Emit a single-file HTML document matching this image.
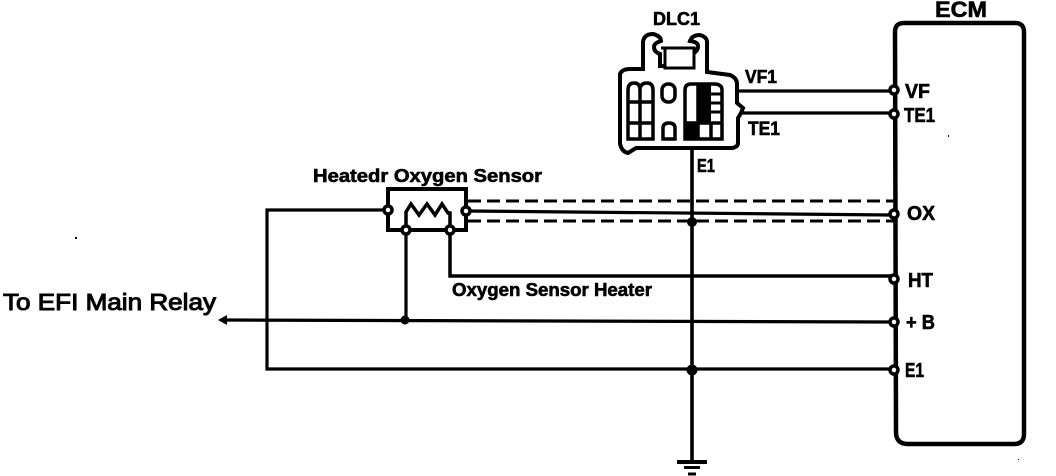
<!DOCTYPE html>
<html>
<head>
<meta charset="utf-8">
<style>
html,body{margin:0;padding:0;background:#fff;width:1056px;height:476px;overflow:hidden}
svg{display:block}
text{font-family:"Liberation Sans",sans-serif;font-weight:bold;fill:#000;stroke:#000;stroke-width:.6}
.w{fill:none;stroke:#000;stroke-width:3.2}
.c{fill:#fff;stroke:#000;stroke-width:3.5}
.d{fill:#000;stroke:none}
</style>
</head>
<body>
<svg width="1056" height="476" viewBox="0 0 1056 476" xmlns="http://www.w3.org/2000/svg">
<!-- ECM -->
<path d="M895 32Q895 23 904 23H1015Q1024 23 1024 32V434Q1024 444 1014 444H908Q896 444 896 432Z" fill="none" stroke="#000" stroke-width="4.5"/>
<text x="935" y="17" font-size="22" textLength="52" lengthAdjust="spacingAndGlyphs">ECM</text>
<text x="905" y="98" font-size="20" textLength="25" lengthAdjust="spacingAndGlyphs">VF</text>
<text x="904" y="122" font-size="20" textLength="31" lengthAdjust="spacingAndGlyphs">TE1</text>
<text x="907" y="220" font-size="20" textLength="28" lengthAdjust="spacingAndGlyphs">OX</text>
<text x="908" y="287" font-size="20" textLength="25" lengthAdjust="spacingAndGlyphs">HT</text>
<text x="906" y="329" font-size="20" textLength="29" lengthAdjust="spacingAndGlyphs">+ B</text>
<text x="905" y="377" font-size="20" textLength="19" lengthAdjust="spacingAndGlyphs">E1</text>

<!-- Wires -->
<path class="w" d="M712 91H894M725 113H894"/>
<path class="w" d="M692 145V460" style="stroke-width:3.6"/>
<path class="w" d="M466 211L894 215"/>
<path d="M468 201H894M468 221H894" fill="none" stroke="#000" stroke-width="3" stroke-dasharray="13 6"/>
<path class="w" d="M387 210H267V369H894"/>
<path class="w" d="M224 320L894 322"/>
<path d="M218 320L227 315V325Z" fill="#000"/>
<path class="w" d="M406 232V320"/>
<path d="M450 232V276H894" fill="none" stroke="#000" stroke-width="3.5"/>
<circle class="d" cx="405" cy="320" r="4.5"/>
<circle class="d" cx="692" cy="222" r="5"/>
<circle class="d" cx="692" cy="370" r="5.5"/>

<!-- Ground -->
<path d="M677 462H707" stroke="#000" stroke-width="4" fill="none"/>
<path d="M684 467.5H700" stroke="#000" stroke-width="3" fill="none"/>
<path d="M688 474H696" stroke="#000" stroke-width="3" fill="none"/>

<!-- Terminals on ECM -->
<circle class="c" cx="894" cy="90" r="4"/>
<circle class="c" cx="894" cy="114" r="4"/>
<circle class="c" cx="894" cy="214" r="4"/>
<circle class="c" cx="894" cy="279" r="4"/>
<circle class="c" cx="894" cy="322" r="4"/>
<circle class="c" cx="894" cy="370" r="4"/>

<!-- Sensor -->
<path d="M388 208V189H466V206M466 215V230H388V214" fill="none" stroke="#000" stroke-width="4"/>
<path d="M406 230V212L411 204L419 215L427 204L435 215L442 204L448 213H450V230" fill="none" stroke="#000" stroke-width="3.5"/>
<circle class="c" cx="388" cy="210" r="4"/>
<circle class="c" cx="466" cy="211" r="4"/>
<circle class="c" cx="406" cy="230" r="4"/>
<circle class="c" cx="450" cy="230" r="4"/>
<text x="313" y="182" font-size="18" textLength="229" lengthAdjust="spacingAndGlyphs">Heatedr Oxygen Sensor</text>
<text x="452" y="296" font-size="18" textLength="200" lengthAdjust="spacingAndGlyphs">Oxygen Sensor Heater</text>
<text x="3" y="310" font-size="23" style="font-weight:normal;stroke-width:1" textLength="213" lengthAdjust="spacingAndGlyphs">To EFI Main Relay</text>

<!-- DLC1 -->
<text x="653" y="25" font-size="18" textLength="47" lengthAdjust="spacingAndGlyphs">DLC1</text>
<text x="745" y="83" font-size="18" textLength="32" lengthAdjust="spacingAndGlyphs">VF1</text>
<text x="748" y="135" font-size="19" textLength="32" lengthAdjust="spacingAndGlyphs">TE1</text>
<text x="697" y="172" font-size="18" textLength="18" lengthAdjust="spacingAndGlyphs">E1</text>
<path d="M643 69V42Q644 34 653 34Q661 36 661 41Q654 43 654 47Q654 52 660 54V66H691V54Q698 52 698 46Q698 42 690 41Q692 35 700 35Q707 37 707 42V72L730 75Q737 78 737 84V103L743 108L741 113L738 118V143Q738 147 732 148H636L628 153Q622 152 620 144V74Q622 69 630 69Z" fill="#fff" stroke="#000" stroke-width="4"/>
<path d="M661 48H690" stroke="#000" stroke-width="3" fill="none"/>
<rect x="665" y="48" width="29" height="20" fill="#fff" stroke="#000" stroke-width="3"/>
<!-- left cavity -->
<path d="M628 139V90Q628 83 634 83Q640 83 640 90Q640 83 647 83Q653 83 653 90V139ZM640 90V139M628 102H653M628 123H653" fill="none" stroke="#000" stroke-width="3.5"/>
<!-- middle cavities -->
<rect x="662" y="84" width="13" height="18" rx="6" fill="none" stroke="#000" stroke-width="3.5"/>
<path d="M663 139V128Q663 123 669 123Q675 123 675 128V139Z" fill="none" stroke="#000" stroke-width="3.5"/>
<!-- right cavity -->
<path d="M685 139V90Q685 84 691 84H714Q722 84 722 90V139ZM698 84V139M711 123V139M685 123H722" fill="none" stroke="#000" stroke-width="3.5"/>
<path d="M698 83H711V124H698Z" fill="#000"/>
<path d="M685 123H699V140H685Z" fill="#000"/>
<path d="M709 94H723M709 103H723M709 112H723" stroke="#000" stroke-width="3" fill="none"/>
<!-- specks -->
<rect x="75" y="237" width="2" height="2" fill="#000"/>
<rect x="948" y="135" width="1" height="2" fill="#000"/>
<rect x="1018" y="459" width="1" height="1" fill="#000"/>
</svg>
</body>
</html>
